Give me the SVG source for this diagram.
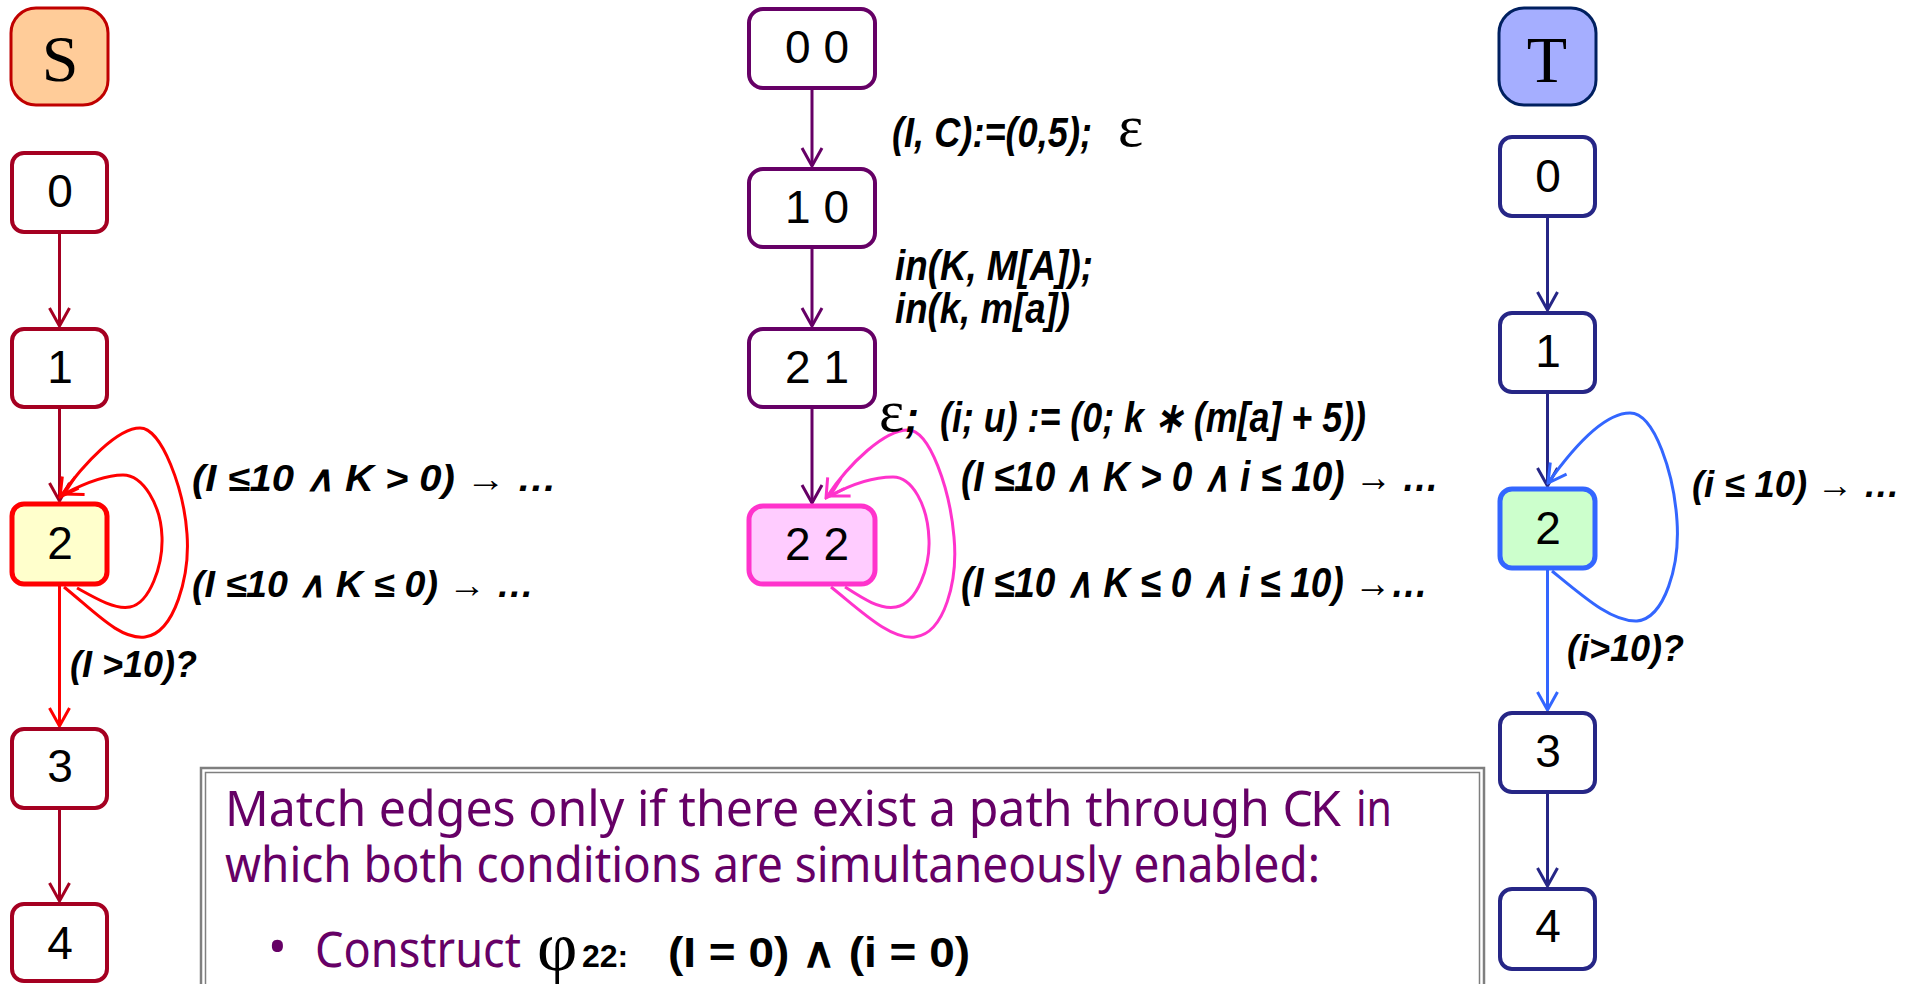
<svg xmlns="http://www.w3.org/2000/svg" width="1914" height="984" viewBox="0 0 1914 984">
<style>
.nd{fill:#fff;stroke-width:4}
.num{font-family:"Liberation Sans",Arial,sans-serif;font-size:46px;fill:#000;text-anchor:middle}
.ttl{font-family:"Liberation Serif","Times New Roman",serif;font-size:66px;fill:#000;text-anchor:middle}
.lbl{font-family:"Liberation Sans",Arial,sans-serif;font-weight:bold;font-style:italic;font-size:36px;fill:#000}
.lbm{font-family:"Liberation Sans",Arial,sans-serif;font-weight:bold;font-style:italic;font-size:42px;fill:#000}
.eps{font-family:"Liberation Serif","DejaVu Serif",serif;font-size:60px;fill:#000}
.cn{fill:none;stroke-width:3}
.pt{font-family:"Noto Sans","Open Sans",sans-serif;font-size:50px;fill:#660066}
.bk{font-family:"Liberation Sans",Arial,sans-serif;font-weight:bold;fill:#000}
</style>
<defs>
<marker id="aS" viewBox="-20 -12 22 24" markerWidth="22" markerHeight="24" refX="0" refY="0" orient="auto" markerUnits="userSpaceOnUse"><path d="M-18,-10 L0,0 L-18,10" fill="none" stroke="#A50021" stroke-width="3"/></marker>
<marker id="aR" viewBox="-20 -12 22 24" markerWidth="22" markerHeight="24" refX="0" refY="0" orient="auto" markerUnits="userSpaceOnUse"><path d="M-18,-10 L0,0 L-18,10" fill="none" stroke="#FF0000" stroke-width="3"/></marker>
<marker id="aM" viewBox="-20 -12 22 24" markerWidth="22" markerHeight="24" refX="0" refY="0" orient="auto" markerUnits="userSpaceOnUse"><path d="M-18,-10 L0,0 L-18,10" fill="none" stroke="#660066" stroke-width="3"/></marker>
<marker id="aP" viewBox="-20 -12 22 24" markerWidth="22" markerHeight="24" refX="0" refY="0" orient="auto" markerUnits="userSpaceOnUse"><path d="M-18,-10 L0,0 L-18,10" fill="none" stroke="#FF33CC" stroke-width="3"/></marker>
<marker id="aN" viewBox="-20 -12 22 24" markerWidth="22" markerHeight="24" refX="0" refY="0" orient="auto" markerUnits="userSpaceOnUse"><path d="M-18,-10 L0,0 L-18,10" fill="none" stroke="#262686" stroke-width="3"/></marker>
<marker id="aB" viewBox="-20 -12 22 24" markerWidth="22" markerHeight="24" refX="0" refY="0" orient="auto" markerUnits="userSpaceOnUse"><path d="M-18,-10 L0,0 L-18,10" fill="none" stroke="#3366FF" stroke-width="3"/></marker>
</defs>

<g id="connectors">
<path class="cn" stroke="#A50021" d="M59.5,234 V326" marker-end="url(#aS)"/>
<path class="cn" stroke="#A50021" d="M59.5,409 V501" marker-end="url(#aS)"/>
<path class="cn" stroke="#FF0000" d="M59.5,586 V726" marker-end="url(#aR)"/>
<path class="cn" stroke="#A50021" d="M59.5,810 V901" marker-end="url(#aS)"/>
<path class="cn" stroke="#FF0000" d="M64,587 C95,612 120,640 145,637 C175,633 190,575 187,534 C184,490 162,428 140,428 C118,428 85,462 60,497" marker-end="url(#aR)"/>
<path class="cn" stroke="#FF0000" d="M77,588 C95,598 115,610 130,607 C150,603 163,565 162,537 C161,505 143,475 123,475 C105,475 85,483 64,494" marker-end="url(#aR)"/>
<path class="cn" stroke="#660066" d="M812,90 V166" marker-end="url(#aM)"/>
<path class="cn" stroke="#660066" d="M812,249 V326" marker-end="url(#aM)"/>
<path class="cn" stroke="#660066" d="M812,409 V503" marker-end="url(#aM)"/>
<path class="cn" stroke="#FF33CC" d="M831,587 C860,610 890,640 915,637 C945,633 958,580 954,537 C950,490 930,430 908,430 C885,430 850,462 826,498" marker-end="url(#aP)"/>
<path class="cn" stroke="#FF33CC" d="M845,587 C862,598 880,610 896,607 C918,603 930,565 929,540 C928,505 912,477 893,477 C872,477 850,485 830,496" marker-end="url(#aP)"/>
<path class="cn" stroke="#262686" d="M1547.5,218 V310" marker-end="url(#aN)"/>
<path class="cn" stroke="#262686" d="M1547.5,394 V486" marker-end="url(#aN)"/>
<path class="cn" stroke="#3366FF" d="M1547.5,570 V710" marker-end="url(#aB)"/>
<path class="cn" stroke="#262686" d="M1547.5,794 V886" marker-end="url(#aN)"/>
<path class="cn" stroke="#3366FF" d="M1552,571 C1585,598 1612,622 1637,621 C1665,618 1680,565 1677,521 C1674,475 1655,413 1630,413 C1605,413 1575,445 1548,483" marker-end="url(#aB)"/>
</g>

<g id="labels">
<text class="lbl" x="192" y="491" textLength="365" lengthAdjust="spacingAndGlyphs">(I ≤10 ∧ K &gt; 0) →  …</text>
<text class="lbl" x="192" y="597" textLength="342" lengthAdjust="spacingAndGlyphs">(I ≤10 ∧ K ≤ 0) →  …</text>
<text class="lbl" x="70" y="677">(I &gt;10)?</text>
<text class="lbm" x="892" y="147" textLength="200" lengthAdjust="spacingAndGlyphs">(I, C):=(0,5);</text>
<text class="eps" x="1118" y="146">ε</text>
<text class="lbm" x="895" y="280" textLength="198" lengthAdjust="spacingAndGlyphs">in(K, M[A]);</text>
<text class="lbm" x="895" y="323" textLength="175" lengthAdjust="spacingAndGlyphs">in(k, m[a])</text>
<text class="eps" x="879" y="431">ε</text>
<text class="lbm" x="905" y="432">;</text>
<text class="lbm" x="940" y="432" textLength="426" lengthAdjust="spacingAndGlyphs">(i; u) := (0; k ∗ (m[a] + 5))</text>
<text class="lbm" x="961" y="491" textLength="478" lengthAdjust="spacingAndGlyphs">(I ≤10 ∧ K &gt; 0 ∧ i ≤ 10) →  …</text>
<text class="lbm" x="961" y="597" textLength="467" lengthAdjust="spacingAndGlyphs">(I ≤10 ∧ K ≤ 0 ∧ i ≤ 10) →…</text>
<text class="lbl" x="1692" y="497" textLength="208" lengthAdjust="spacingAndGlyphs">(i ≤ 10) → …</text>
<text class="lbl" x="1567" y="661">(i&gt;10)?</text>
</g>

<g id="S"><rect x="11" y="8" width="97" height="97" rx="25" fill="#FFCC99" stroke="#C00000" stroke-width="3"/><text class="ttl" x="60" y="81">S</text></g>
<g id="s0"><rect class="nd" x="12" y="153" width="95" height="79" rx="12" stroke="#A50021"/><text class="num" x="60" y="207">0</text></g>
<g id="s1"><rect class="nd" x="12" y="329" width="95" height="78" rx="12" stroke="#A50021"/><text class="num" x="60" y="383">1</text></g>
<g id="s2"><rect x="12" y="504" width="95" height="80" rx="12" fill="#FFFFCC" stroke="#FF0000" stroke-width="5"/><text class="num" x="60" y="559">2</text></g>
<g id="s3"><rect class="nd" x="12" y="729" width="95" height="79" rx="12" stroke="#A50021"/><text class="num" x="60" y="782">3</text></g>
<g id="s4"><rect class="nd" x="12" y="904" width="95" height="77" rx="12" stroke="#A50021"/><text class="num" x="60" y="959">4</text></g>

<g id="m00"><rect class="nd" x="749" y="9" width="126" height="79" rx="14" stroke="#660066"/><text class="num" x="817" y="63">0 0</text></g>
<g id="m10"><rect class="nd" x="749" y="169" width="126" height="78" rx="14" stroke="#660066"/><text class="num" x="817" y="223">1 0</text></g>
<g id="m21"><rect class="nd" x="749" y="329" width="126" height="78" rx="14" stroke="#660066"/><text class="num" x="817" y="383">2 1</text></g>
<g id="m22"><rect x="749" y="506" width="126" height="78" rx="14" fill="#FFCCFF" stroke="#FF33CC" stroke-width="5"/><text class="num" x="817" y="560">2 2</text></g>

<g id="T"><rect x="1499" y="8" width="97" height="97" rx="25" fill="#A5AEFF" stroke="#002060" stroke-width="3"/><text class="ttl" x="1547" y="82">T</text></g>
<g id="t0"><rect class="nd" x="1500" y="137" width="95" height="79" rx="12" stroke="#262686"/><text class="num" x="1548" y="192">0</text></g>
<g id="t1"><rect class="nd" x="1500" y="313" width="95" height="79" rx="12" stroke="#262686"/><text class="num" x="1548" y="367">1</text></g>
<g id="t2"><rect x="1500" y="489" width="95" height="79" rx="12" fill="#CCFFCC" stroke="#3366FF" stroke-width="5"/><text class="num" x="1548" y="544">2</text></g>
<g id="t3"><rect class="nd" x="1500" y="713" width="95" height="79" rx="12" stroke="#262686"/><text class="num" x="1548" y="767">3</text></g>
<g id="t4"><rect class="nd" x="1500" y="889" width="95" height="80" rx="12" stroke="#262686"/><text class="num" x="1548" y="942">4</text></g>

<g id="note">
<rect x="201" y="768" width="1283" height="240" fill="#fff" stroke="#7F7F7F" stroke-width="2.5"/>
<rect x="205.5" y="772.5" width="1274" height="231" fill="none" stroke="#7F7F7F" stroke-width="1.5"/>
<text class="pt" x="225" y="826" textLength="1088" lengthAdjust="spacingAndGlyphs">Match edges only if there exist a path through C</text>
<text class="pt" x="1310" y="826" font-size="32">K</text>
<text class="pt" x="1356" y="826" textLength="36" lengthAdjust="spacingAndGlyphs">in</text>
<text class="pt" x="225" y="882" textLength="1095" lengthAdjust="spacingAndGlyphs">which both conditions are simultaneously enabled:</text>
<text class="pt" x="268" y="964" font-size="40">•</text>
<text class="pt" x="315" y="967" textLength="206" lengthAdjust="spacingAndGlyphs">Construct</text>
<text x="537" y="970" font-family="'Liberation Serif','DejaVu Serif',serif" font-size="70" fill="#000">φ</text>
<text class="bk" x="582" y="967" font-size="32">22:</text>
<text class="bk" x="668" y="967" font-size="42" textLength="302" lengthAdjust="spacingAndGlyphs">(I = 0) ∧ (i = 0)</text>
</g>
</svg>
